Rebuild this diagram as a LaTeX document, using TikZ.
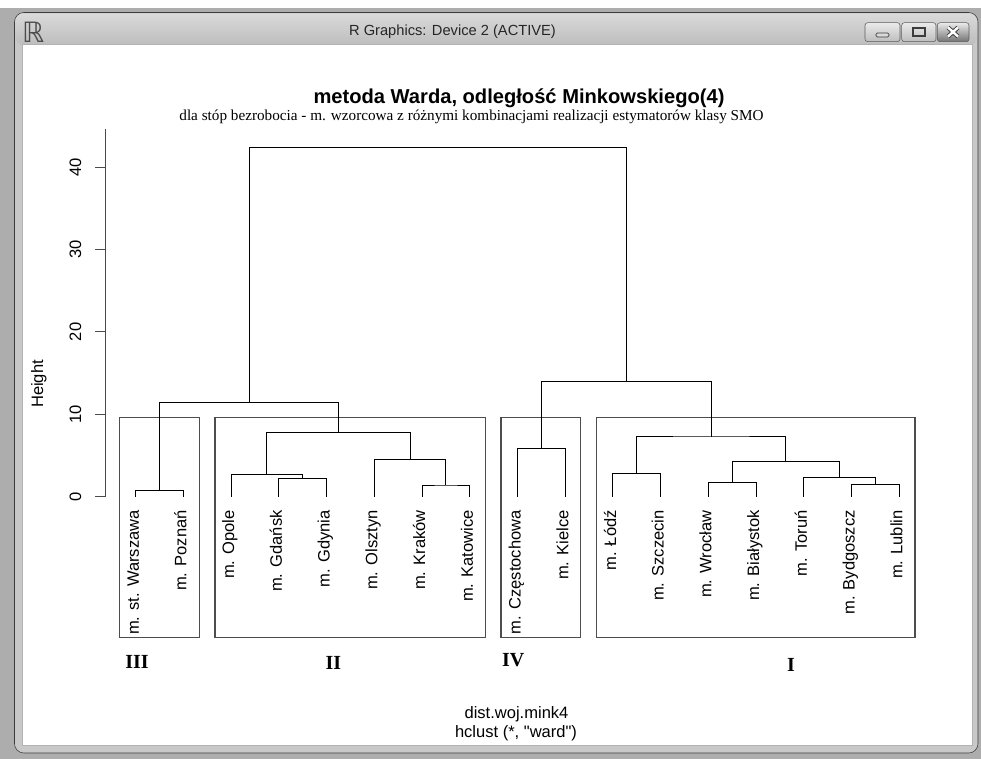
\documentclass[tikz,border=0pt]{standalone}
\usepackage{fontspec}
\setmainfont{Liberation Serif}
\setsansfont{Liberation Sans}[Ligatures=TeXOff]
\newfontfamily\symfont{DejaVu Sans}
\definecolor{outgray}{HTML}{ADADAD}
\definecolor{frameedge}{HTML}{3C3C3C}
\definecolor{framefill}{HTML}{C8C8C8}
\definecolor{barlight}{HTML}{DADADA}
\definecolor{bardark}{HTML}{BDBDBD}
\definecolor{boxgray}{HTML}{4D4D4D}
\definecolor{axisgray}{HTML}{4A4A4A}
\definecolor{btnedge}{HTML}{5C5C5C}
\begin{document}
\begin{tikzpicture}[x=0.75pt, y=-0.75pt,
    br/.style={line width=0.75pt, black},
    grp/.style={draw=boxgray, line width=0.9pt},
    ax/.style={line width=0.75pt, axisgray},
    lf/.style={font=\sffamily\fontsize{12.4}{15}\selectfont, rotate=90, anchor=mid east, inner sep=0pt},
    tk/.style={font=\sffamily\fontsize{12.4}{15}\selectfont, rotate=90, anchor=south, inner sep=0pt},
    rn/.style={font=\bfseries\fontsize{15}{18}\selectfont, inner sep=0pt},
    txt/.style={font=\sffamily\fontsize{12.4}{15}\selectfont, anchor=base, inner sep=0pt},
    btn/.style={draw=btnedge, rounded corners=2pt, top color=white!92!black, bottom color=#1}
  ]
  \useasboundingbox (0,0) rectangle (981,759);
  % window
  \fill[white] (0,0) rectangle (981,759);
  \fill[outgray] (0,8) rectangle (981,759);
  \draw[frameedge, fill=framefill, rounded corners=7pt] (14.5,12.5) rectangle (978,753);
  \shade[top color=barlight, bottom color=bardark, rounded corners=6pt] (15.5,13.5) rectangle (977,45);
  \fill[white] (23,45) rectangle (972,745);
  \draw[gray!60, line width=0.5pt] (22.5,44.5) rectangle (972.5,745.5);
  \node[font=\symfont\fontsize{21}{21}\selectfont, text=black!70, inner sep=0pt] (ricon) at (33.3,32) {ℝ};
  \node[font=\sffamily\fontsize{11}{13}\selectfont, text=black!85] (wtitle) at (452.5,32) {R Graphics: Device 2 (ACTIVE)};
  \draw[btn=bardark] (865,22.7) rectangle (900,41.7);
  \draw[btn=bardark] (901.7,22.7) rectangle (936,41.7);
  \draw[btn=black!55] (937.3,22.7) rectangle (969,41.7);
  \draw[frameedge, fill=white!85!black, rounded corners=1pt, line width=0.6pt] (876,33) rectangle (889,37);
  \draw[frameedge, line width=1.4pt] (913,28) rectangle (925,36);
  \draw[frameedge, line width=3.2pt] (948,27.5) -- (958,36.5) (958,27.5) -- (948,36.5);
  \draw[white, line width=1.8pt] (948,27.5) -- (958,36.5) (958,27.5) -- (948,36.5);

  % titles
  \node[font=\sffamily\bfseries\fontsize{15.1}{18}\selectfont, anchor=base, inner sep=0pt] (main) at (519,104) {metoda Warda, odległość Minkowskiego(4)};
  \node[font=\fontsize{11.4}{14}\selectfont, anchor=base, inner sep=0pt] (sub) at (471.5,121) {dla stóp bezrobocia - m. wzorcowa z różnymi kombinacjami realizacji estymatorów klasy SMO};
  \node[txt] (xlab) at (516.5,718) {dist.woj.mink4};
  \node[txt] (meth) at (516,737) {hclust (*, "ward")};
  \node[txt, rotate=90] (ylab) at (43,384) {Height};

  % groups
  \draw[grp] (119.3,417.7) rectangle (199.3,637.7);
  \draw[grp] (215,417.7) rectangle (485.3,637.7);
  \draw[grp] (501,417.7) rectangle (580.7,637.7);
  \draw[grp] (596.3,417.7) rectangle (915,637.7);
  \node[rn] (gIII) at (137,661.7) {III};
  \node[rn] (gII) at (333.3,663.3) {II};
  \node[rn] (gIV) at (513.3,660) {IV};
  \node[rn] (gI) at (791,665) {I};

  \begin{scope}[shift={(0,496.7)}, yscale=-8.24]
    % axis
    \draw[ax] (105,0) -- (105,44.6);
    \foreach \v in {0,10,...,40} {
      \draw[ax] (95,\v) -- (105,\v);
      \node[tk] (t\v) at (81.5,\v) {\v};
    }
    % leaves
    \foreach \nm [count=\i] in {m. st. Warszawa, m. Poznań, m. Opole, m. Gdańsk, m. Gdynia,
        m. Olsztyn, m. Kraków, m. Katowice, m. Częstochowa, m. Kielce, m. Łódź,
        m. Szczecin, m. Wrocław, m. Białystok, m. Toruń, m. Bydgoszcz, m. Lublin} {
      \coordinate (l\i) at ({135.7+47.725*(\i-1)},0);
      \node[lf] (n\i) at ({135.7+47.725*(\i-1)},-1.62) {\nm};
    }
    % merges
    \coordinate (m1) at (159.56,0.81);
    \coordinate (m2) at (302.74,2.23);
    \coordinate (m3) at (266.94,2.72);
    \coordinate (m4) at (445.91,1.42);
    \coordinate (m5) at (410.12,4.54);
    \coordinate (m6) at (338.53,7.8);
    \coordinate (m7) at (249.05,11.4);
    \coordinate (m8) at (541.36,5.83);
    \coordinate (m9) at (636.81,2.84);
    \coordinate (m10) at (732.26,1.70);
    \coordinate (m11) at (875.44,1.46);
    \coordinate (m12) at (839.65,2.35);
    \coordinate (m13) at (785.95,4.33);
    \coordinate (m14) at (711.38,7.25);
    \coordinate (m15) at (626.37,13.96);
    \coordinate (m16) at (437.71,42.4);
    \foreach \a/\m/\b in {l1/m1/l2, l4/m2/l5, l3/m3/m2, l7/m4/l8, l6/m5/m4,
        m3/m6/m5, m1/m7/m6, l9/m8/l10, l11/m9/l12, l13/m10/l14, l16/m11/l17,
        l15/m12/m11, m10/m13/m12, m9/m14/m13, m8/m15/m14, m7/m16/m15}
      \draw[br] (\a) |- (\m) -| (\b);
  \end{scope}
\end{tikzpicture}
\end{document}
